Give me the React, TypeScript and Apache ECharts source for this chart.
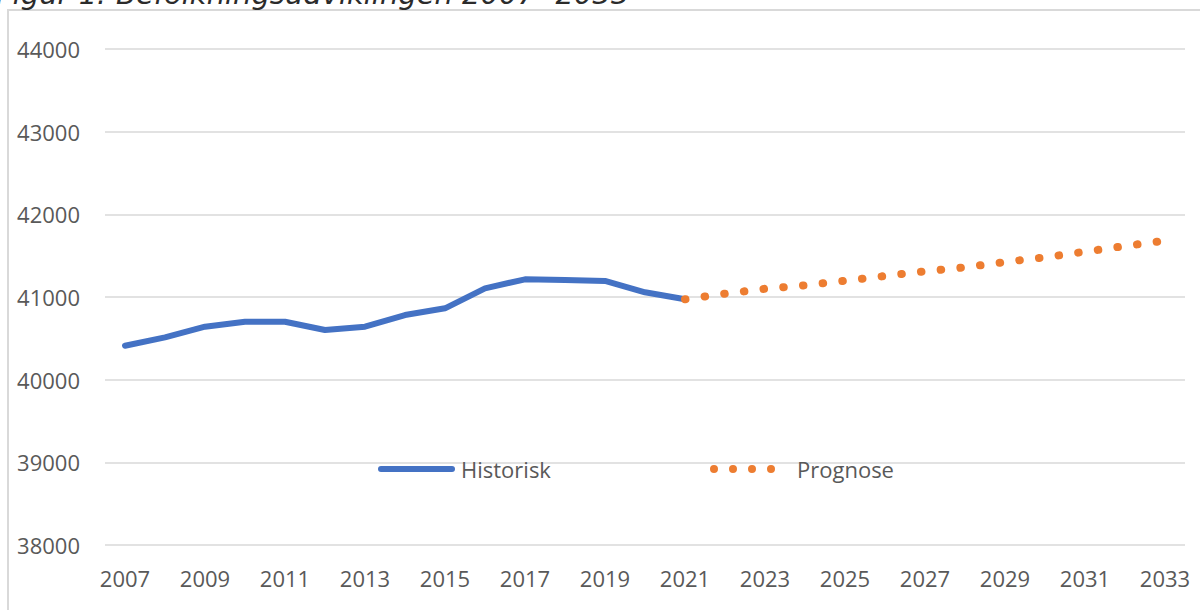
import React, { useEffect, useRef } from "react";
import * as echarts from "echarts";

const years: string[] = [
  "2007", "2008", "2009", "2010", "2011", "2012", "2013", "2014", "2015",
  "2016", "2017", "2018", "2019", "2020", "2021", "2022", "2023", "2024",
  "2025", "2026", "2027", "2028", "2029", "2030", "2031", "2032", "2033",
];

const historisk: (number | null)[] = [
  40411, 40512, 40641, 40701, 40701, 40601, 40641, 40782, 40863,
  41105, 41214, 41206, 41194, 41057, 40972,
  null, null, null, null, null, null, null, null, null, null, null, null,
];

const prognose: (number | null)[] = [
  null, null, null, null, null, null, null, null, null, null, null, null, null, null,
  40972, 41040, 41100, 41141, 41197, 41254, 41311, 41359, 41423, 41480, 41548, 41617, 41681,
];

const yMin = 38000;
const yMax = 44000;
const yStep = 1000;

const titleText = "Figur 1: Befolkningsudviklingen 2007- 2033";

const BLUE = "#4472C4";
const ORANGE = "#ED7D31";
const LABEL = "#595959";
const GRID = "#d9d9d9";
const FONT = "'Open Sans', 'Liberation Sans', sans-serif";

const lineIcon = "path://M3 0H74A3 3 0 0 1 74 6H3A3 3 0 0 1 3 0Z";
const dotsIcon =
  "path://M0 4A4 4 0 1 0 8 4A4 4 0 1 0 0 4Z" +
  "M19 4A4 4 0 1 0 27 4A4 4 0 1 0 19 4Z" +
  "M38 4A4 4 0 1 0 46 4A4 4 0 1 0 38 4Z" +
  "M57 4A4 4 0 1 0 65 4A4 4 0 1 0 57 4Z";

export default function App() {
  const ref = useRef<HTMLDivElement>(null);

  useEffect(() => {
    if (!ref.current) return;
    const chart = echarts.init(ref.current, null, { renderer: "svg" });
    chart.setOption({
      animation: false,
      backgroundColor: "#ffffff",
      graphic: [
        {
          type: "rect",
          shape: { x: 8, y: 10, width: 1250, height: 700 },
          style: { fill: "none", stroke: GRID, lineWidth: 2 },
          silent: true,
        },
        {
          type: "text",
          x: -4,
          y: -21,
          style: {
            text: titleText,
            fontSize: 29,
            fontStyle: "italic",
            fontFamily: "'DejaVu Sans', sans-serif",
            fill: "#2b2b2b",
          },
          silent: true,
        },
      ],
      legend: [
        {
          data: [{ name: "Historisk", icon: lineIcon }],
          left: 378,
          top: 458,
          padding: 0,
          itemWidth: 77,
          itemHeight: 6,
          textStyle: { color: LABEL, fontSize: 22, fontFamily: FONT, padding: [0, 0, 0, 1] },
          selectedMode: false,
        },
        {
          data: [{ name: "Prognose", icon: dotsIcon }],
          left: 710,
          top: 458,
          padding: 0,
          itemWidth: 65,
          itemHeight: 8,
          textStyle: { color: LABEL, fontSize: 22, fontFamily: FONT, padding: [0, 0, 0, 17] },
          selectedMode: false,
        },
      ],
      grid: { left: 105, top: 49, width: 1080, height: 496, containLabel: false },
      xAxis: {
        type: "category",
        data: years,
        boundaryGap: true,
        axisLine: { show: false },
        axisTick: { show: false },
        axisLabel: {
          interval: 1,
          color: LABEL,
          fontSize: 22,
          fontFamily: FONT,
          margin: 22,
        },
        splitLine: { show: false },
      },
      yAxis: {
        type: "value",
        min: yMin,
        max: yMax,
        interval: yStep,
        axisLine: { show: false },
        axisTick: { show: false },
        axisLabel: {
          color: LABEL,
          fontSize: 22,
          fontFamily: FONT,
          margin: 25,
          formatter: (v: number) => String(v),
        },
        splitLine: { lineStyle: { color: GRID, width: 1.5 } },
      },
      series: [
        {
          name: "Historisk",
          type: "line",
          data: historisk,
          showSymbol: false,
          symbol: "none",
          color: BLUE,
          itemStyle: { color: BLUE },
          lineStyle: { color: BLUE, width: 6, cap: "round", join: "round" },
          z: 2,
        },
        {
          name: "Prognose",
          type: "line",
          data: prognose,
          showSymbol: false,
          symbol: "none",
          color: ORANGE,
          itemStyle: { color: ORANGE },
          lineStyle: { color: ORANGE, width: 8, cap: "round", type: [0.5, 19.3] },
          z: 3,
        },
      ],
    });
    return () => chart.dispose();
  }, []);

  return (
    <div
      ref={ref}
      style={{ position: "fixed", left: 0, top: 0, width: 1200, height: 610 }}
    />
  );
}
